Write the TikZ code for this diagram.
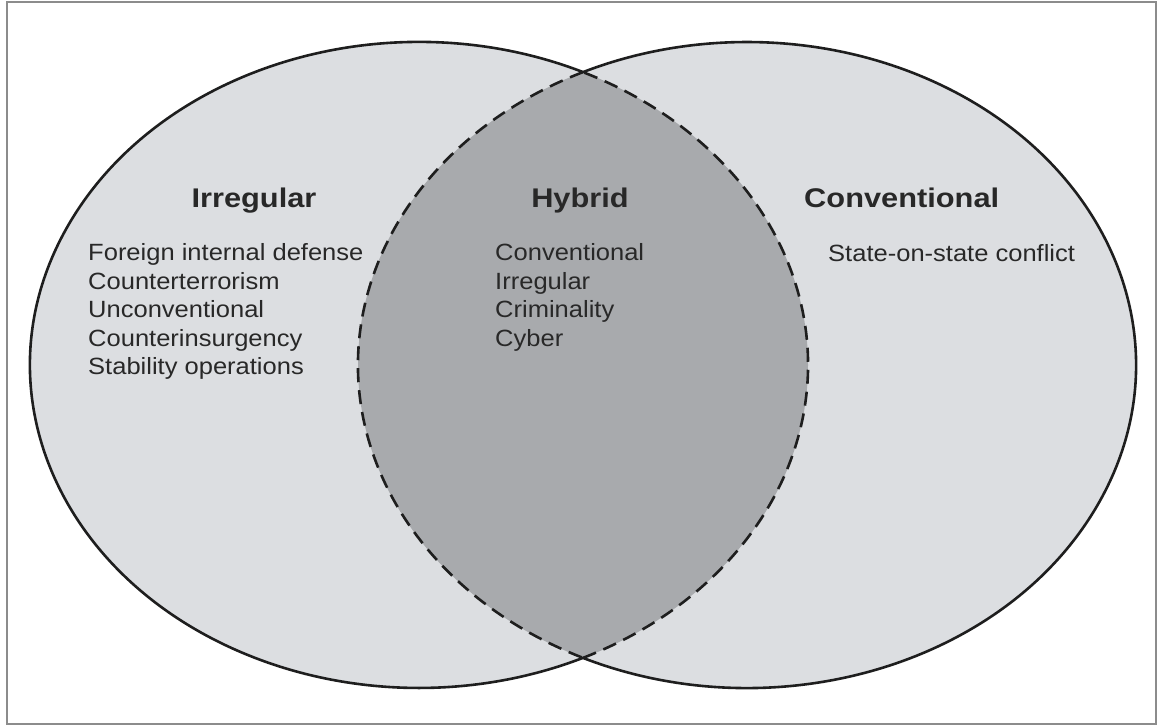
\documentclass[tikz,border=0pt]{standalone}
\usepackage{fontspec}
\setmainfont{Liberation Sans}
\definecolor{lightfill}{RGB}{220,222,225}
\definecolor{darkfill}{RGB}{168,170,173}
\definecolor{outline}{RGB}{30,30,30}
\definecolor{txt}{RGB}{40,40,40}
\definecolor{framec}{RGB}{140,140,140}
\begin{document}
\begin{tikzpicture}[x=1pt,y=1pt,
  title/.style={font=\fontsize{27}{32}\selectfont\bfseries, text=txt, inner sep=0pt, xscale=1.14},
  item/.style={font=\fontsize{23.5}{28}\selectfont, text=txt, inner sep=0pt, anchor=base west, xscale=1.086},
  solidline/.style={draw=outline, line width=2.6pt},
  dashline/.style={draw=outline, line width=2.6pt, dash pattern=on 14pt off 8pt}]
\useasboundingbox (0,0) rectangle (1163,727);
\draw[framec, line width=1.8pt] (7,3) rectangle (1156,725);
% fills
\fill[lightfill] (419,362) ellipse [x radius=389, y radius=323];
\fill[lightfill] (747,362) ellipse [x radius=389, y radius=323];
\begin{scope}
  \clip (419,362) ellipse [x radius=389, y radius=323];
  \fill[darkfill] (747,362) ellipse [x radius=389, y radius=323];
\end{scope}
% intersection points
\coordinate (top) at (583,654.9);
\coordinate (bot) at (583,69.1);
% outlines
\draw[solidline] (top) arc [start angle=65.06, end angle=294.94, x radius=389, y radius=323];
\draw[solidline] (bot) arc [start angle=-114.94, end angle=114.94, x radius=389, y radius=323];
\draw[dashline] (bot) arc [start angle=-65.06, end angle=65.06, x radius=389, y radius=323];
\draw[dashline] (top) arc [start angle=114.94, end angle=245.06, x radius=389, y radius=323];
% titles
\node[title, anchor=base] (irr) at (254,519) {Irregular};
\node[title, anchor=base] (hyb) at (580,519) {Hybrid};
\node[title, anchor=base west] (conv) at (804,519) {Conventional};
% irregular items
\node[item] (i1) at (88,466) {Foreign internal defense};
\node[item] (i2) at (88,437.5) {Counterterrorism};
\node[item] (i3) at (88,409) {Unconventional};
\node[item] (i4) at (88,380.5) {Counterinsurgency};
\node[item] (i5) at (88,352) {Stability operations};
% hybrid items
\node[item] (h1) at (495,466) {Conventional};
\node[item] (h2) at (495,437.5) {Irregular};
\node[item] (h3) at (495,409) {Criminality};
\node[item] (h4) at (495,380.5) {Cyber};
% conventional items
\node[item] (c1) at (828,465) {State-on-state conflict};
\end{tikzpicture}
\end{document}
